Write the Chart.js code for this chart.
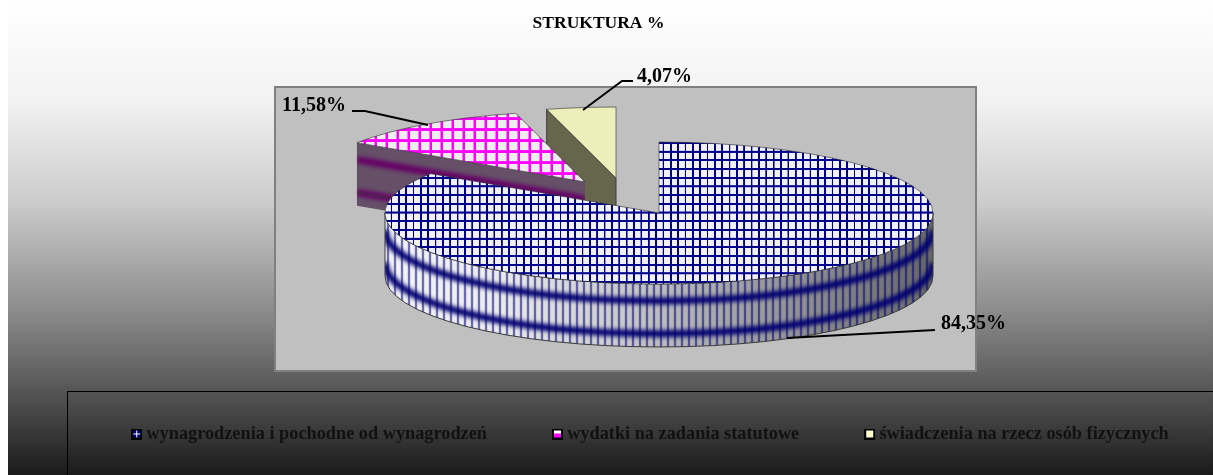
<!DOCTYPE html>
<html><head><meta charset="utf-8">
<style>html,body{margin:0;padding:0;background:#fff;overflow:hidden}canvas{display:block}</style>
<script src="https://cdn.jsdelivr.net/npm/chart.js@4"></script>
</head><body><canvas id="c" width="1213" height="475"></canvas>
<script>
const categories = ['wynagrodzenia i pochodne od wynagrodzeń','wydatki na zadania statutowe','świadczenia na rzecz osób fizycznych'];
const values = [84.35, 11.58, 4.07];
const chartTitle = 'STRUKTURA %';

// projection and layout (styles, not data)
const FONT = '"Liberation Serif","Times New Roman",serif';
const CENTER = {x:659, y:213}, SQUASH = 0.259, DEPTH = 63, RADIUS = 274;
const EXPLODE = [[0,0],[-74,-31],[-43,-35]];
const PLOT = {l:274, t:86, r:977, b:372};
const LEGEND_BOX = {l:67.5, t:391.5};
const LEGEND_PAD = 70, LEGEND_FONT = 18.3;
const LEADERS = [
  {text:[941,324], pts:[[787,338],[935,330]]},
  {text:[282,106], pts:[[428,125],[365,111],[352,111]]},
  {text:[637,77],  pts:[[583,110],[622,81],[633,81]]}
];

function gridPattern(cell, line, color, bg, sx, sy){
  const c = document.createElement('canvas'); c.width = c.height = cell;
  const g = c.getContext('2d');
  g.fillStyle = bg; g.fillRect(0,0,cell,cell);
  g.fillStyle = color; g.fillRect(0,0,line,cell); g.fillRect(0,0,cell,line);
  const p = g.createPattern(c,'repeat');
  p.setTransform(new DOMMatrix().scale(sx, sy/SQUASH));
  return p;
}
const topFills = [
  gridPattern(30,7,'#00008b','#f0f0f8',0.245,0.29),
  gridPattern(22,5,'#ff00ff','#eeeeee',0.5,0.5),
  '#eeeebb'
];
function marker(paint){
  const c = document.createElement('canvas'); c.width = c.height = 11;
  const g = c.getContext('2d');
  g.fillStyle = '#000'; g.fillRect(0,0,11,11);
  g.fillStyle = '#fff'; g.fillRect(2,2,7,7);
  paint(g); return c;
}
const markers = [
  marker(g=>{g.fillStyle='#000080';g.fillRect(2,2,3,3);g.fillRect(6,2,3,3);g.fillRect(2,6,3,3);g.fillRect(6,6,3,3);}),
  marker(g=>{g.fillStyle='#ff00ff';g.fillRect(2,5,7,4);}),
  marker(g=>{g.fillStyle='#ffffcc';g.fillRect(2,2,7,7);})
];

function background(ctx,w,h){
  ctx.save();
  ctx.fillStyle='#fff'; ctx.fillRect(0,0,w,h);
  const g=ctx.createLinearGradient(0,0,0,h);
  [[0,'#ffffff'],[100,'#f2f2f2'],[200,'#cdcdcd'],[300,'#929292'],[367,'#666666'],[467,'#202020'],[475,'#1a1a1a']]
    .forEach(s=>g.addColorStop(s[0]/475,s[1]));
  ctx.fillStyle=g; ctx.fillRect(8,0,w-8,h);
  ctx.fillStyle='#c0c0c0'; ctx.fillRect(PLOT.l,PLOT.t,PLOT.r-PLOT.l,PLOT.b-PLOT.t);
  ctx.strokeStyle='#808080'; ctx.lineWidth=2; ctx.strokeRect(PLOT.l+1,PLOT.t+1,PLOT.r-PLOT.l-2,PLOT.b-PLOT.t-2);
  ctx.strokeStyle='#000'; ctx.lineWidth=1; ctx.strokeRect(LEGEND_BOX.l,LEGEND_BOX.t,w,h);
  ctx.restore();
}
const pos=(i,arc,a,d)=>[CENTER.x+EXPLODE[i][0]+arc.outerRadius*Math.cos(a), CENTER.y+EXPLODE[i][1]+arc.outerRadius*SQUASH*Math.sin(a)+d];
const apex=(i,d)=>[CENTER.x+EXPLODE[i][0], CENTER.y+EXPLODE[i][1]+d];

function cutFace(ctx,i,arc,base,band){
  const a=arc.startAngle;
  const r0=pos(i,arc,a,0), r1=pos(i,arc,a,DEPTH), p0=apex(i,0), p1=apex(i,DEPTH);
  ctx.save();
  ctx.beginPath(); ctx.moveTo(...r0); ctx.lineTo(...p0); ctx.lineTo(...p1); ctx.lineTo(...r1); ctx.closePath();
  ctx.fillStyle=base; ctx.fill();
  ctx.save(); ctx.clip();
  if(band){
    ctx.filter='blur(2px)'; ctx.strokeStyle=band; ctx.lineWidth=7;
    [0.27,0.79].forEach(f=>{const d=DEPTH*f;ctx.beginPath();ctx.moveTo(...pos(i,arc,a,d));ctx.lineTo(...apex(i,d));ctx.stroke();});
  }
  ctx.restore();
  ctx.strokeStyle='#3a3a3a'; ctx.lineWidth=1; ctx.stroke();
  ctx.restore();
}
function rimSide(ctx,i,arc){
  const s=Math.max(arc.startAngle,0), e=Math.min(arc.endAngle,Math.PI);
  const cx=CENTER.x+EXPLODE[i][0], cy=CENTER.y+EXPLODE[i][1], R=arc.outerRadius, Ry=R*SQUASH;
  const path=()=>{ctx.beginPath();ctx.ellipse(cx,cy,R,Ry,0,s,e,false);ctx.ellipse(cx,cy+DEPTH,R,Ry,0,e,s,true);ctx.closePath();};
  ctx.save(); path();
  const g=ctx.createLinearGradient(cx-R,0,cx+R,0);
  [[0,'#f4f4f4'],[0.2,'#ececec'],[0.4,'#cfcfcf'],[0.6,'#aaaaaa'],[0.8,'#888888'],[1,'#666666']].forEach(c=>g.addColorStop(c[0],c[1]));
  ctx.fillStyle=g; ctx.fill();
  ctx.save(); ctx.clip();
  for(let x=cx-R+3;x<cx+R;x+=7){
    ctx.strokeStyle='rgba(0,0,128,.18)'; ctx.lineWidth=3; ctx.beginPath(); ctx.moveTo(x,cy); ctx.lineTo(x,cy+DEPTH+Ry); ctx.stroke();
    ctx.strokeStyle='rgba(0,0,128,.9)'; ctx.lineWidth=1; ctx.beginPath(); ctx.moveTo(x,cy); ctx.lineTo(x,cy+DEPTH+Ry); ctx.stroke();
  }
  ctx.filter='blur(2px)'; ctx.strokeStyle='#000070'; ctx.lineWidth=7;
  [0.27,0.79].forEach(f=>{ctx.beginPath();ctx.ellipse(cx,cy+DEPTH*f,R,Ry,0,s,e,false);ctx.stroke();});
  ctx.restore();
  path(); ctx.strokeStyle='#3a3a3a'; ctx.lineWidth=1; ctx.stroke();
  ctx.restore();
}
function topFace(ctx,i,arc){
  ctx.save();
  ctx.translate(CENTER.x+EXPLODE[i][0],CENTER.y+EXPLODE[i][1]);
  ctx.scale(1,SQUASH);
  ctx.translate(-arc.x,-arc.y);
  arc.draw(ctx);
  ctx.restore();
}

const pie3d = {
  id:'pie3d',
  afterLayout(chart){
    const lg=chart.legend, h=lg.height;
    lg.left=-8; lg.right=1313; lg.top=434-LEGEND_PAD-LEGEND_FONT/2; lg.bottom=lg.top+h;
    const t=chart.titleBlock; t.left=0; t.right=1197;
  },
  beforeDraw(chart){ background(chart.ctx,chart.width,chart.height); },
  beforeDatasetDraw(chart,args){
    const ctx=chart.ctx, arcs=chart.getDatasetMeta(args.index).data;
    cutFace(ctx,2,arcs[2],'#66664c',null); topFace(ctx,2,arcs[2]);
    cutFace(ctx,1,arcs[1],'#655068','#660066'); topFace(ctx,1,arcs[1]);
    rimSide(ctx,0,arcs[0]); topFace(ctx,0,arcs[0]);
    return false;
  },
  afterDatasetsDraw(chart){
    const ctx=chart.ctx;
    ctx.save();
    ctx.font='bold 20px '+FONT; ctx.textBaseline='middle'; ctx.textAlign='left';
    values.forEach((v,i)=>{
      const L=LEADERS[i];
      ctx.strokeStyle='#000'; ctx.lineWidth=2; ctx.beginPath();
      L.pts.forEach((p,k)=>k?ctx.lineTo(...p):ctx.moveTo(...p)); ctx.stroke();
      ctx.fillStyle='#000'; ctx.fillText(v.toFixed(2).replace('.',',')+'%',L.text[0],L.text[1]);
    });
    ctx.restore();
  }
};

new Chart(document.getElementById('c'),{
  type:'pie',
  data:{labels:categories,datasets:[{data:values,backgroundColor:topFills,borderColor:'#333',borderWidth:1,radius:RADIUS}]},
  plugins:[pie3d],
  options:{
    responsive:false, animation:false, events:[],
    maintainAspectRatio:false,
    plugins:{
      tooltip:{enabled:false},
      title:{display:true,text:chartTitle,color:'#000',font:{family:FONT,size:17.5,weight:'bold'},padding:{top:13,bottom:4}},
      legend:{position:'bottom',labels:{
        color:'#111',font:{family:FONT,size:LEGEND_FONT,weight:'bold'},padding:LEGEND_PAD,boxWidth:1,boxHeight:11,usePointStyle:true,
        generateLabels:()=>categories.map((t,i)=>({text:t,pointStyle:markers[i],fillStyle:'#000',strokeStyle:'#000',lineWidth:0,fontColor:'#111',hidden:false,index:i}))
      }}
    }
  }
});
</script>
</body></html>
